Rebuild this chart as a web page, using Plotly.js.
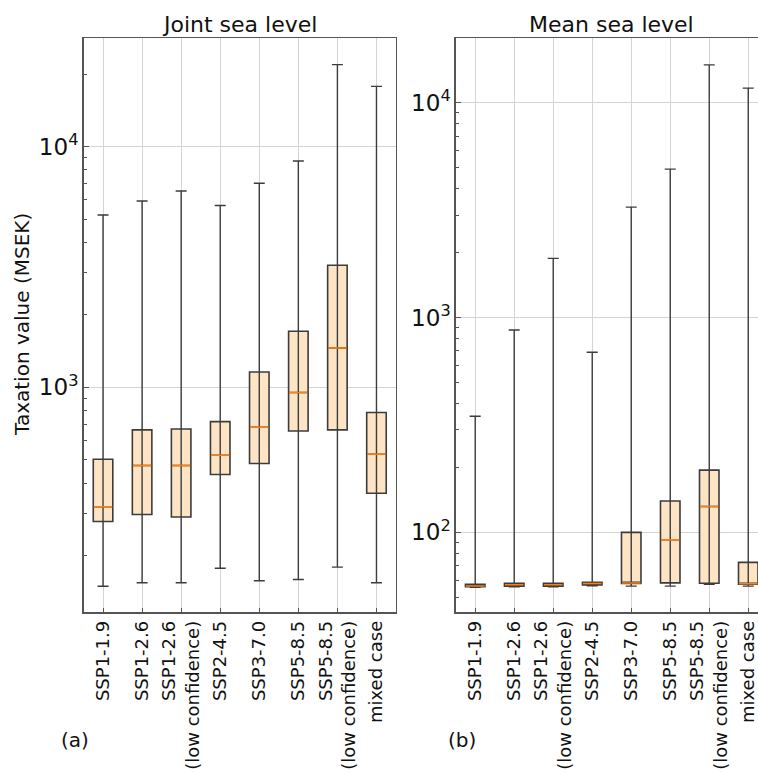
<!DOCTYPE html>
<html>
<head>
<meta charset="utf-8">
<script src="https://cdn.plot.ly/plotly-3.0.1.min.js"></script>
<style>html,body{margin:0;padding:0;background:#fff;}#chart{width:758px;height:774px;}</style>
</head>
<body>
<div id="chart"></div>
<script>
// ---- data ----
var categories = ["SSP1-1.9", "SSP1-2.6", "SSP1-2.6<br>(low confidence)", "SSP2-4.5",
                  "SSP3-7.0", "SSP5-8.5", "SSP5-8.5<br>(low confidence)", "mixed case"];

// (a) Joint sea level
var jointLower  = [149, 154, 154, 177, 157, 159, 179, 154];
var jointQ1     = [277, 296, 289, 434, 482, 658, 665, 363];
var jointMedian = [319, 473, 473, 522, 682, 951, 1456, 527];
var jointQ3     = [502, 665, 671, 720, 1158, 1709, 3213, 785];
var jointUpper  = [5200, 5945, 6540, 5690, 7040, 8710, 21900, 17800];

// (b) Mean sea level
var meanLower  = [55.5, 55.8, 55.8, 56.4, 56.2, 56.2, 57.4, 56.2];
var meanQ1     = [55.8, 56.2, 56.2, 56.9, 57.9, 58.2, 58.0, 57.4];
var meanMedian = [56.3, 57.0, 57.0, 57.8, 58.2, 92.4, 132, 57.6];
var meanQ3     = [57.4, 57.9, 57.9, 58.5, 100, 140, 195, 72.5];
var meanUpper  = [347, 875, 1887, 689, 3268, 4910, 15000, 11700];

var panelTitles = ["Joint sea level", "Mean sea level"];
var yLabel = "Taxation value (MSEK)";
var panelTags = ["(a)", "(b)"];

// ---- styles ----
var FONT = "DejaVu Sans, sans-serif";
var boxFill = "#fde4c5";
var edge = "#3c3c3c";
var medianColor = "#ff7f0e";
var gridColor = "#d4d4d4";
var axisColor = "#555555";

function diff(a, b) { return a.map(function (v, i) { return v - b[i]; }); }

function panelTraces(lower, q1, med, q3, upper, xa, ya) {
  return [
    {
      type: "box", x: categories, q1: q1, median: med, q3: q3,
      lowerfence: q1, upperfence: q3,
      xaxis: xa, yaxis: ya, width: 0.5, whiskerwidth: 0,
      fillcolor: boxFill, line: {color: edge, width: 1.6},
      boxpoints: false, hoverinfo: "skip", showlegend: false
    },
    {
      type: "scatter", mode: "markers", x: categories, y: med,
      xaxis: xa, yaxis: ya,
      marker: {size: 1, color: "rgba(0,0,0,0)"},
      error_y: {type: "data", symmetric: false,
                array: diff(upper, med), arrayminus: diff(med, lower),
                color: edge, thickness: 1.4, width: 5.5},
      hoverinfo: "skip", showlegend: false
    },
    {
      type: "scatter", mode: "markers", x: categories, y: med,
      xaxis: xa, yaxis: ya,
      marker: {symbol: "line-ew", size: 13.3, color: medianColor,
               line: {color: medianColor, width: 1.5}},
      hoverinfo: "skip", showlegend: false
    }
  ];
}

var data = [].concat(
  panelTraces(jointLower, jointQ1, jointMedian, jointQ3, jointUpper, "x", "y"),
  panelTraces(meanLower, meanQ1, meanMedian, meanQ3, meanUpper, "x2", "y2")
);

var W = 758, H = 774;
function px(x) { return x / W; }
function py(y) { return (H - y) / H; }

var yDomain = [py(612.3), py(38.3)];

function xAxis(domain, range, anchor, mirror) {
  return {
    type: "category", domain: domain, range: range, anchor: anchor,
    showgrid: true, gridcolor: gridColor, gridwidth: 1,
    showline: true, linecolor: axisColor, linewidth: 1.3, mirror: mirror,
    ticks: "inside", ticklen: 4, tickcolor: axisColor, tickwidth: 1,
    tickangle: -90, tickfont: {family: FONT, size: 18, color: "#111"},
    zeroline: false, fixedrange: true
  };
}
function yAxis(range, anchor, mirror) {
  return {
    type: "log", domain: yDomain, range: range, anchor: anchor,
    tickmode: "linear", tick0: 0, dtick: 1, exponentformat: "power",
    showgrid: true, gridcolor: gridColor, gridwidth: 1,
    showline: true, linecolor: axisColor, linewidth: 1.3, mirror: mirror,
    ticks: "inside", ticklen: 5, tickcolor: axisColor, tickwidth: 1,
    tickfont: {family: FONT, size: 18.5, color: "#111"},
    minor: {ticks: "inside", ticklen: 3, tickcolor: axisColor, tickwidth: 1,
            dtick: "D1", showgrid: false},
    zeroline: false, fixedrange: true
  };
}

var layout = {
  width: W, height: H,
  margin: {l: 0, r: 0, t: 0, b: 0},
  paper_bgcolor: "#ffffff", plot_bgcolor: "#ffffff",
  showlegend: false, boxmode: "overlay",
  font: {family: FONT, color: "#111"},
  xaxis: xAxis([px(83.5), px(396)], [-0.5, 7.5], "y", true),
  yaxis: yAxis([2.065, 4.45], "x", true),
  xaxis2: xAxis([px(455.7), 1], [-0.5, 7.25], "y2", true),
  yaxis2: yAxis([1.628, 4.30], "x2", false),
  annotations: [
    {text: panelTitles[0], xref: "paper", yref: "paper", x: px(239.8), y: py(25),
     xanchor: "center", yanchor: "middle", showarrow: false,
     font: {family: FONT, size: 22, color: "#111"}},
    {text: panelTitles[1], xref: "paper", yref: "paper", x: px(611.8), y: py(25),
     xanchor: "center", yanchor: "middle", showarrow: false,
     font: {family: FONT, size: 22, color: "#111"}},
    {text: yLabel, xref: "paper", yref: "paper", x: px(22), y: py(325),
     xanchor: "center", yanchor: "middle", textangle: -90, showarrow: false,
     font: {family: FONT, size: 20, color: "#111"}},
    {text: panelTags[0], xref: "paper", yref: "paper", x: px(75), y: py(740),
     xanchor: "center", yanchor: "middle", showarrow: false,
     font: {family: FONT, size: 20, color: "#111"}},
    {text: panelTags[1], xref: "paper", yref: "paper", x: px(462), y: py(740),
     xanchor: "center", yanchor: "middle", showarrow: false,
     font: {family: FONT, size: 20, color: "#111"}}
  ]
};

Plotly.newPlot("chart", data, layout, {staticPlot: true, displayModeBar: false});
</script>
</body>
</html>
